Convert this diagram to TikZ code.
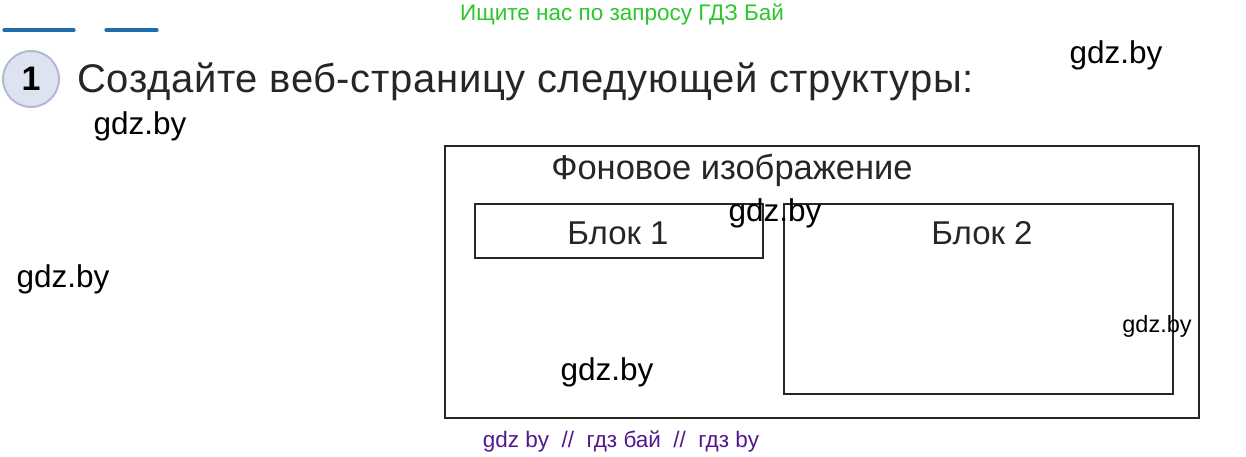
\documentclass[tikz,border=0pt]{standalone}
\usepackage{fontspec}
\setmainfont{Liberation Sans}
\newfontfamily\widefont[LetterSpace=1.6]{Liberation Sans}
\usetikzlibrary{positioning}
\definecolor{SearchClr}{rgb}{0.16,0.78,0.16}
\definecolor{LinkClr}{rgb}{0.33,0.09,0.55}
\definecolor{RuleClr}{rgb}{0.12,0.43,0.68}
\definecolor{BadgeClr}{rgb}{0.87,0.89,0.95}
\definecolor{BadgeLineClr}{rgb}{0.70,0.73,0.84}
\definecolor{FrameClr}{rgb}{0.15,0.15,0.15}

\begin{document}
\begin{tikzpicture}[x=1pt,y=-1pt,
  frame/.style={draw=FrameClr,line width=1.1pt},
  wmark/.style={inner sep=0pt,font=\fontsize{31.5}{37}\selectfont},
  smallwmark/.style={inner sep=0pt,font=\fontsize{23.5}{28}\selectfont},
  caption/.style={inner sep=0pt,text=FrameClr,font=\fontsize{33}{39}\selectfont}]
\useasboundingbox (0,0) rectangle (1246,456);

% top line and task number
\node[inner sep=0pt,text=SearchClr,font=\fontsize{22.5}{27}\selectfont] (search) at (622,14) {Ищите нас по запросу ГДЗ Бай};
\draw[RuleClr,line width=3.2pt,line cap=round] (4,30) -- (74,30);
\draw[RuleClr,line width=3.2pt,line cap=round] (106,30) -- (157,30);
\node[circle,minimum size=56pt,inner sep=0pt,fill=BadgeClr,draw=BadgeLineClr,line width=2pt,
  font=\fontsize{34}{40}\selectfont\bfseries] (num) at (31,79) {1};
\node[inner sep=0pt,anchor=west,text=FrameClr,font=\fontsize{40}{48}\widefont] (task) at (77,82) {Создайте веб-страницу следующей структуры:};

% the page layout
\draw[frame] (445,146) rectangle (1199,418);
\draw[frame] (475,204) rectangle (763,258);
\draw[frame] (784,204) rectangle (1173,394);
\node[caption,font=\fontsize{34.5}{41}\selectfont] (bg) at (732,170) {Фоновое изображение};
\node[caption] (blockA) at (618,233) {Блок 1};
\node[caption] (blockB) at (982,233) {Блок 2};

% watermarks
\node[wmark] (wmA) at (1116,55) {gdz.by};
\node[wmark] (wmB) at (140,126) {gdz.by};
\node[wmark] (wmC) at (775,213) {gdz.by};
\node[wmark] (wmD) at (63,279) {gdz.by};
\node[smallwmark] (wmE) at (1157,326) {gdz.by};
\node[wmark] (wmF) at (607,372) {gdz.by};
\node[inner sep=0pt,text=LinkClr,font=\fontsize{22.5}{27}\selectfont] (links) at (621,441) {gdz by\ \ //\ \ гдз бай\ \ //\ \ гдз by};

\end{tikzpicture}
\end{document}
